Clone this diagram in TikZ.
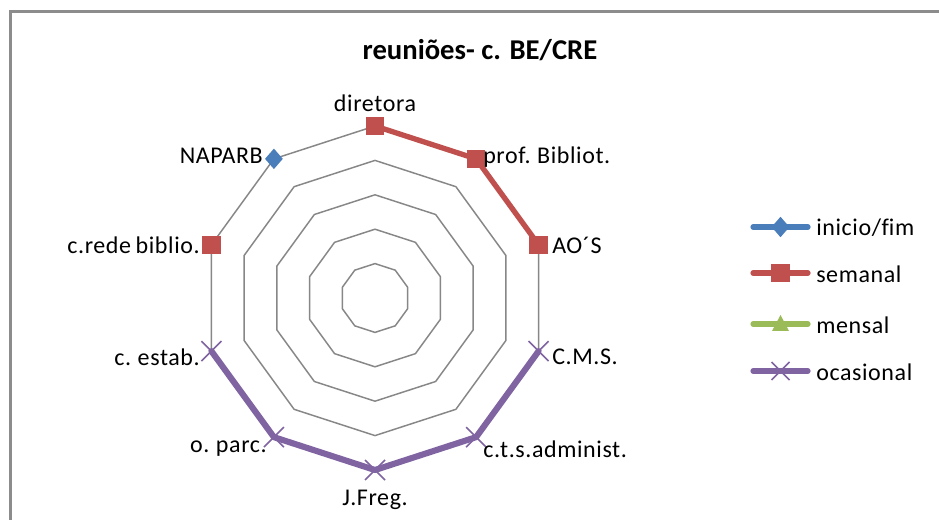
\documentclass[tikz,border=0pt]{standalone}
\usepackage{fontspec}
\setmainfont{Carlito}
\newfontfamily\lblfont[LetterSpace=2.5,WordSpace=0.75,Ligatures={NoCommon}]{Carlito}
\usetikzlibrary{shapes.geometric,calc}
\definecolor{ringgray}{HTML}{878787}
\definecolor{framegray}{HTML}{8C8C8C}
\definecolor{serblue}{HTML}{4A7EBB}
\definecolor{serred}{HTML}{C0504D}
\definecolor{sergreen}{HTML}{9BBB59}
\definecolor{serpurple}{HTML}{8064A2}
\tikzset{
  ring/.style={draw=ringgray, line width=1.1pt, line join=miter},
  lbl/.style={font=\lblfont\fontsize{18}{20}\selectfont, inner sep=0pt, text=black},
  sqmark/.style={rectangle, fill=serred, inner sep=0pt, minimum size=13.8pt},
  dimark/.style={diamond, fill=serblue, inner sep=0pt, minimum width=13.5pt, minimum height=15.5pt},
  redline/.style={draw=serred, line width=4pt, line join=round, line cap=round},
  purpline/.style={draw=serpurple, line width=4.6pt, line join=round, line cap=round},
  legline/.style={line width=3.9pt, line cap=round},
  xmark/.style={draw=serpurple, line width=1.2pt},
}
\begin{document}
\begin{tikzpicture}[x=0.75pt, y=-0.75pt]
\useasboundingbox (0,0) rectangle (939,520);
\fill[white] (0,0) rectangle (939,520);
% outer frame
\draw[framegray, line width=1.6pt] (10.5,545) -- (10.5,11.5) -- (960,11.5);
% title
\node[font=\bfseries\fontsize{21.5}{24}\selectfont, inner sep=0pt] (title) at (480,50) {reuniões- c. BE/CRE};
% vertices
\foreach \i in {0,...,9}{
  \coordinate (v\i) at ({375+172*cos(90-36*\i)},{298-172*sin(90-36*\i)});
}
% rings
\foreach \r in {34.4,68.8,103.2,137.6,172}{
  \draw[ring] ({375+\r*cos(90)},{298-\r*sin(90)})
    \foreach \i in {1,...,9}{ -- ({375+\r*cos(90-36*\i)},{298-\r*sin(90-36*\i)}) } -- cycle;
}
% series
\draw[redline] (v0) -- (v1) -- (v2);
\draw[purpline] (v3) -- (v4) -- (v5) -- (v6) -- (v7);
\foreach \i in {0,1,2,8}{ \node[sqmark] at (v\i) {}; }
\node[dimark] at (v9) {};
\foreach \i in {3,...,7}{
  \draw[xmark] ($(v\i)+(-10,-10)$) -- ($(v\i)+(10,10)$);
  \draw[xmark] ($(v\i)+(-10,10)$) -- ($(v\i)+(10,-10)$);
}
% labels
\node[lbl, anchor=south] (l0) at (375,112) {diretora};
\node[lbl, anchor=west] (l1) at (483,157) {prof. Bibliot.};
\node[lbl, anchor=west] (l2) at (552,245) {AO´S};
\node[lbl, anchor=west] (l3) at (552,357) {C.M.S.};
\node[lbl, anchor=west] (l4) at (483,449) {c.t.s.administ.};
\node[lbl, anchor=north] (l5) at (375,490) {J.Freg.};
\node[lbl, anchor=east] (l6) at (267,449) {o. parc.};
\node[lbl, anchor=east] (l7) at (200,357) {c. estab.};
\node[lbl, anchor=east] (l8) at (200,245) {c.rede biblio.};
\node[lbl, anchor=east] (l9) at (263,156) {NAPARB};
% legend
\coordinate (la1) at (753,227); \coordinate (lb1) at (808,227);
\coordinate (la2) at (753,273); \coordinate (lb2) at (808,273);
\coordinate (la3) at (753,324); \coordinate (lb3) at (808,324);
\coordinate (la4) at (753,371); \coordinate (lb4) at (808,371);
\draw[legline, serblue] (la1) -- (lb1);
\node[dimark] at ($(la1)!0.5!(lb1)$) {};
\node[lbl, anchor=west] at (816,228) {inicio/f\kern0pt im};
\draw[legline, serred] (la2) -- (lb2);
\node[sqmark] at ($(la2)!0.5!(lb2)$) {};
\node[lbl, anchor=west] at (816,274) {semanal};
\draw[legline, sergreen] (la3) -- (lb3);
\coordinate (m3) at ($(la3)!0.5!(lb3)$);
\fill[sergreen] ($(m3)+(-8.5,7)$) -- ($(m3)+(8.5,7)$) -- ($(m3)+(0,-9)$) -- cycle;
\node[lbl, anchor=west] at (816,325) {mensal};
\draw[legline, serpurple] (la4) -- (lb4);
\draw[xmark] ($(la4)!0.5!(lb4)+(-9,-9)$) -- ($(la4)!0.5!(lb4)+(9,9)$);
\draw[xmark] ($(la4)!0.5!(lb4)+(-9,9)$) -- ($(la4)!0.5!(lb4)+(9,-9)$);
\node[lbl, anchor=west] at (816,372) {ocasional};
\end{tikzpicture}
\end{document}
